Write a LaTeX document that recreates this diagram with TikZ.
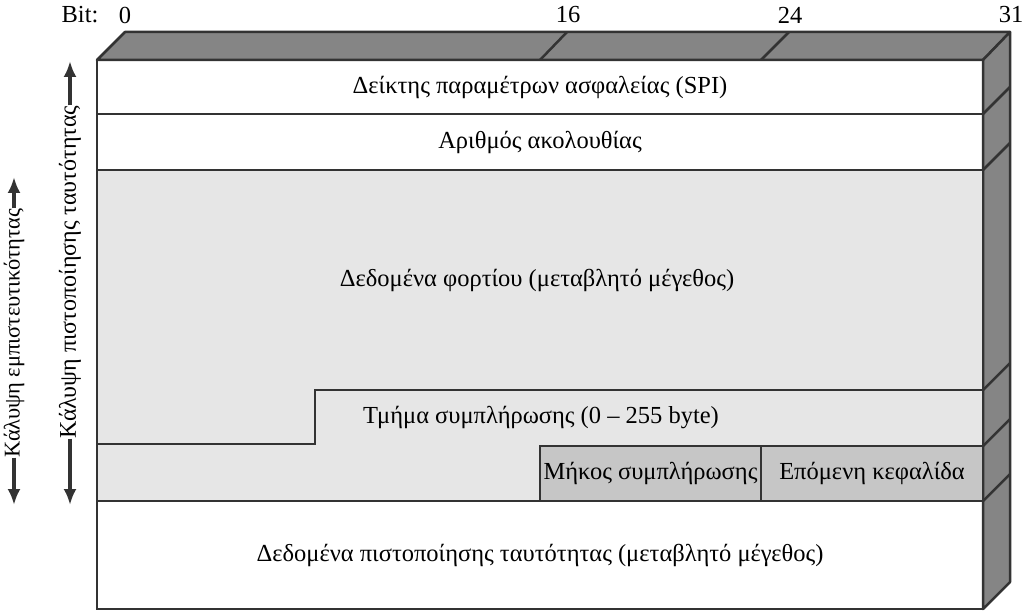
\documentclass[tikz,border=0pt]{standalone}
\usepackage{fontspec}
\setmainfont{Liberation Serif}
\usetikzlibrary{arrows.meta}
\definecolor{facegray}{HTML}{858585}
\definecolor{paygray}{HTML}{E6E6E6}
\definecolor{cellgray}{HTML}{C6C6C6}
\definecolor{edgecol}{HTML}{333333}
\tikzset{
  txt/.style={font=\fontsize{24.5}{28}\selectfont, inner sep=1pt},
  sidetxt/.style={font=\fontsize{24}{28}\selectfont, inner sep=0pt, rotate=90},
  field/.style={txt, draw=edgecol, line width=2.5pt, minimum width=886pt},
  cell/.style={txt, draw=edgecol, line width=2.5pt, fill=cellgray, minimum height=55pt},
  coverarrow/.style={draw=edgecol, line width=3.5pt, -{Latex[length=16pt,width=13pt]}},
}
\begin{document}
\begin{tikzpicture}[x=1pt, y=-1pt]
    \useasboundingbox (0,0) rectangle (1024,612);

    % bit numbers
    \node[txt] (bit) at (80,15) {Bit:};
    \node[txt] (b0) at (125,15) {0};
    \node[txt] (b16) at (568,15) {16};
    \node[txt] (b24) at (790,15) {24};
    \node[txt] (b31) at (1011,15) {31};

    % top and right faces
    \begin{scope}[draw=edgecol, line width=2.5pt, line join=round]
        \filldraw[fill=facegray] (97,60) -- (125,32) -- (1010,32) -- (983,60) -- cycle;
        \filldraw[fill=facegray] (983,60) -- (1010,32) -- (1010,582) -- (983,609) -- cycle;
        \draw (540,60) -- (567,32);
        \draw (761,60) -- (789,32);
        \foreach \y in {114,170,390,446,501}
            \draw (983,\y) -- (1010,\y-27);
    \end{scope}

    % header rows
    \node[field, minimum height=54pt] (spi) at (540,87) {Δείκτης παραμέτρων ασφαλείας (SPI)};
    \node[field, minimum height=56pt] (seq) at (540,142) {Αριθμός ακολουθίας};

    % payload and padding
    \filldraw[fill=paygray, draw=edgecol, line width=2.5pt] (97,170) rectangle (983,501);
    \draw[edgecol, line width=2.5pt] (97,444) -- (315,444) -- (315,390) -- (983,390);
    \node[txt] (payload) at (537,280) {Δεδομένα φορτίου (μεταβλητό μέγεθος)};
    \node[txt] (pad) at (541,418) {Τμήμα συμπλήρωσης (0 – 255 byte)};

    % trailer cells
    \node[cell, minimum width=221pt] (padlen) at (650.5,473.5) {Μήκος συμπλήρωσης};
    \node[cell, minimum width=222pt] (nexthdr) at (872,473.5) {Επόμενη κεφαλίδα};

    % authentication data
    \node[field, minimum height=108pt] (auth) at (540,555) {Δεδομένα πιστοποίησης ταυτότητας (μεταβλητό μέγεθος)};

    % coverage arrows
    \coordinate (conftop) at (14,177);
    \coordinate (confbot) at (14,505);
    \node[sidetxt, font=\fontsize{22.5}{26}\selectfont] (conf) at (14,333) {Κάλυψη εμπιστευτικότητας};
    \draw[coverarrow] (conf.east) -- (conftop);
    \draw[coverarrow] (conf.west) -- (confbot);

    \coordinate (authtop) at (70,61);
    \coordinate (authbot) at (70,505);
    \node[sidetxt] (authcov) at (70,272) {Κάλυψη πιστοποίησης ταυτότητας};
    \draw[coverarrow] (authcov.east) -- (authtop);
    \draw[coverarrow] (authcov.west) -- (authbot);
\end{tikzpicture}
\end{document}
